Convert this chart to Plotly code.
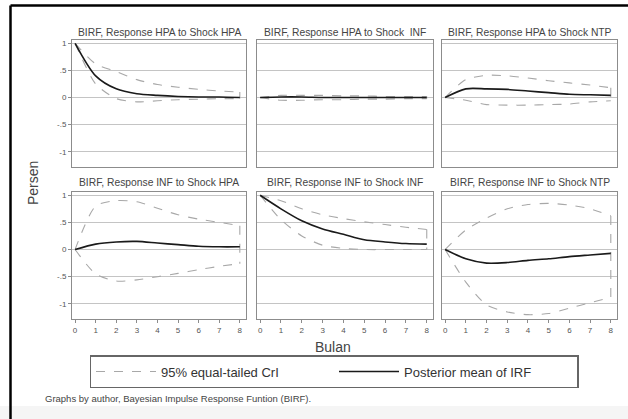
import plotly.graph_objects as go

W, H = 628, 419

steps = [0, 1, 2, 3, 4, 5, 6, 7, 8]

titles = [
    "BIRF, Response HPA to Shock HPA",
    "BIRF, Response HPA to Shock  INF",
    "BIRF, Response HPA to Shock NTP",
    "BIRF, Response INF to Shock HPA",
    "BIRF, Response INF to Shock INF",
    "BIRF, Response INF to Shock NTP",
]

mean_hpa_hpa = [1.0, 0.40, 0.16, 0.07, 0.04, 0.02, 0.01, 0.01, 0.0]
upper_hpa_hpa = [1.0, 0.62, 0.48, 0.33, 0.24, 0.19, 0.15, 0.12, 0.10]
lower_hpa_hpa = [1.0, 0.25, -0.02, -0.08, -0.06, -0.04, -0.03, -0.02, -0.02]

mean_hpa_inf = [0.0, 0.01, 0.01, 0.0, 0.0, 0.0, 0.0, 0.0, 0.0]
upper_hpa_inf = [0.0, 0.04, 0.04, 0.04, 0.03, 0.03, 0.02, 0.02, 0.02]
lower_hpa_inf = [0.0, -0.05, -0.05, -0.04, -0.04, -0.03, -0.03, -0.02, -0.02]

mean_hpa_ntp = [0.0, 0.16, 0.16, 0.15, 0.12, 0.09, 0.06, 0.05, 0.04]
upper_hpa_ntp = [0.0, 0.33, 0.41, 0.40, 0.36, 0.31, 0.27, 0.23, 0.18]
lower_hpa_ntp = [0.0, -0.05, -0.13, -0.14, -0.14, -0.13, -0.12, -0.08, -0.06]

mean_inf_hpa = [0.0, 0.10, 0.14, 0.15, 0.12, 0.09, 0.06, 0.05, 0.05]
upper_inf_hpa = [0.0, 0.80, 0.90, 0.88, 0.76, 0.64, 0.56, 0.50, 0.44]
lower_inf_hpa = [0.0, -0.45, -0.58, -0.56, -0.50, -0.44, -0.37, -0.31, -0.26]

mean_inf_inf = [1.0, 0.75, 0.53, 0.38, 0.28, 0.18, 0.14, 0.11, 0.10]
upper_inf_inf = [1.0, 0.90, 0.75, 0.64, 0.57, 0.51, 0.46, 0.41, 0.37]
lower_inf_inf = [1.0, 0.55, 0.25, 0.08, 0.02, 0.0, 0.0, 0.0, 0.0]

mean_inf_ntp = [0.0, -0.17, -0.25, -0.24, -0.20, -0.17, -0.13, -0.10, -0.07]
upper_inf_ntp = [0.0, 0.36, 0.58, 0.75, 0.83, 0.85, 0.82, 0.75, 0.62]
lower_inf_ntp = [0.0, -0.60, -1.02, -1.15, -1.20, -1.18, -1.08, -0.98, -0.88]

y_tickvals = [-1, -0.5, 0, 0.5, 1]
y_ticktext = ["-1", "-.5", "0", ".5", "1"]
x_ticktext = ["0", "1", "2", "3", "4", "5", "6", "7", "8"]

ci_label = "95% equal-tailed CrI"
mean_label = "Posterior mean of IRF"

panels = [
    (mean_hpa_hpa, upper_hpa_hpa, lower_hpa_hpa),
    (mean_hpa_inf, upper_hpa_inf, lower_hpa_inf),
    (mean_hpa_ntp, upper_hpa_ntp, lower_hpa_ntp),
    (mean_inf_hpa, upper_inf_hpa, lower_inf_hpa),
    (mean_inf_inf, upper_inf_inf, lower_inf_inf),
    (mean_inf_ntp, upper_inf_ntp, lower_inf_ntp),
]

# layout geometry (pixels)
cols_px = [(72, 246), (257, 433), (442, 617)]
rows_px = [(40, 167), (192, 319)]

FONT = "Liberation Sans, Arial, sans-serif"
GRID = "#c4c4c4"
BORDER = "#8c8c8c"
CI_COL = "#a8a8a8"

fig = go.Figure()
layout = dict(
    width=W, height=H,
    margin=dict(l=0, r=0, t=0, b=0),
    paper_bgcolor="white", plot_bgcolor="white",
    font=dict(family=FONT, color="#333333"),
    showlegend=True,
)
annotations = []

ci_line = dict(color=CI_COL, width=1.1, dash="dash")

for i, (m, u, l) in enumerate(panels):
    r, c = divmod(i, 3)
    idx = "" if i == 0 else str(i + 1)
    xa, ya = "x" + idx, "y" + idx
    x0, x1 = cols_px[c]
    y0, y1 = rows_px[r]
    # upper band
    fig.add_trace(go.Scatter(
        x=steps, y=u, mode="lines", xaxis=xa, yaxis=ya,
        line=dict(**ci_line, shape="spline", smoothing=0.7),
        name=ci_label, showlegend=(i == 0), legendgroup="ci", legendrank=1,
        hoverinfo="skip"))
    # lower band
    fig.add_trace(go.Scatter(
        x=steps, y=l, mode="lines", xaxis=xa, yaxis=ya,
        line=dict(**ci_line, shape="spline", smoothing=0.7),
        name=ci_label, showlegend=False, legendgroup="ci", hoverinfo="skip"))
    # closing edge at the last step
    fig.add_trace(go.Scatter(
        x=[steps[-1], steps[-1]], y=[u[-1], l[-1]], mode="lines", xaxis=xa, yaxis=ya,
        line=dict(**ci_line), name=ci_label, showlegend=False, legendgroup="ci",
        hoverinfo="skip"))
    fig.add_trace(go.Scatter(
        x=steps, y=m, mode="lines", xaxis=xa, yaxis=ya,
        line=dict(color="#1a1a1a", width=1.6, shape="spline", smoothing=0.8),
        name=mean_label, showlegend=(i == 0), legendrank=2, hoverinfo="skip"))
    bottom = (r == 1)
    left = (c == 0)
    layout["xaxis" + idx] = dict(
        domain=[x0 / W, x1 / W], anchor=ya, range=[-0.15, 8.3],
        tickvals=steps, ticktext=x_ticktext, showticklabels=bottom,
        ticks="outside" if bottom else "", ticklen=3, tickcolor=BORDER,
        tickfont=dict(size=8, color="#555555"),
        showgrid=False, zeroline=False,
        showline=True, linecolor=BORDER, linewidth=1, mirror=True)
    layout["yaxis" + idx] = dict(
        domain=[1 - y1 / H, 1 - y0 / H], anchor=xa, range=[-1.28, 1.06],
        tickvals=y_tickvals, ticktext=y_ticktext, showticklabels=left,
        ticks="outside" if left else "", ticklen=3, tickcolor=BORDER,
        tickfont=dict(size=8, color="#555555"),
        showgrid=True, gridcolor=GRID, gridwidth=1, zeroline=False,
        showline=True, linecolor=BORDER, linewidth=1, mirror=True)
    ty = 32 if r == 0 else 182
    annotations.append(dict(
        text=titles[i], x=(x0 + x1) / 2 / W, y=1 - ty / H, xref="paper", yref="paper",
        showarrow=False, xanchor="center", yanchor="middle",
        font=dict(size=10.3, color="#444444")))

annotations.append(dict(
    text="Persen", x=33 / W, y=1 - 183 / H, xref="paper", yref="paper",
    showarrow=False, textangle=-90, xanchor="center", yanchor="middle",
    font=dict(size=14, color="#444444")))
annotations.append(dict(
    text="Bulan", x=333 / W, y=1 - 347 / H, xref="paper", yref="paper",
    showarrow=False, xanchor="center", yanchor="middle",
    font=dict(size=14, color="#444444")))
annotations.append(dict(
    text="Graphs by author, Bayesian Impulse Response Funtion (BIRF).",
    x=43 / W, y=1 - 398 / H, xref="paper", yref="paper",
    showarrow=False, xanchor="left", yanchor="middle",
    font=dict(size=9.5, color="#444444")))

layout["annotations"] = annotations
layout["legend"] = dict(
    orientation="h", x=334 / W, y=1 - 371.5 / H, xanchor="center", yanchor="middle",
    bordercolor="#666666", borderwidth=1.5, bgcolor="white",
    font=dict(size=13, color="#333333"), entrywidth=168, itemwidth=60,
    traceorder="normal")
layout["shapes"] = [
    dict(type="rect", xref="paper", yref="paper", x0=0, x1=1.05,
         y0=-0.05, y1=1 - 406 / H, fillcolor="#f5f5f5", line=dict(width=0), layer="below"),
    dict(type="line", xref="paper", yref="paper", x0=10.5 / W, x1=1.05,
         y0=1 - 5.5 / H, y1=1 - 5.5 / H, line=dict(color="black", width=2.5), layer="above"),
    dict(type="line", xref="paper", yref="paper", x0=10.5 / W, x1=10.5 / W,
         y0=-0.05, y1=1 - 5.5 / H, line=dict(color="black", width=2.5), layer="above"),
]

fig.update_layout(**layout)
fig.write_html(
    "out.html",
    config={"displayModeBar": False, "staticPlot": True},
    post_script="document.body.style.margin='0';document.body.style.overflow='hidden';",
)
